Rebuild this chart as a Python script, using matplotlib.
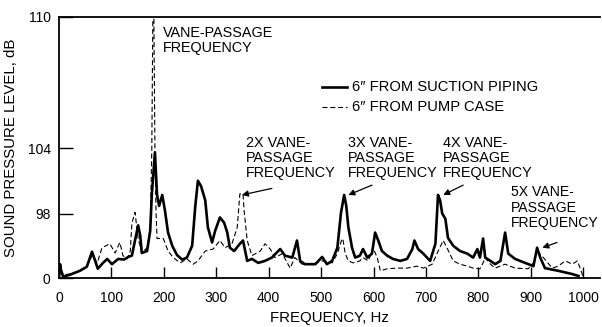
import numpy as np
import matplotlib
matplotlib.use("Agg")
import matplotlib.pyplot as plt

plt.rcParams['font.family'] = ['Liberation Sans', 'DejaVu Sans']

# Frequency (Hz) and sound pressure level (dB) — microphone 6" from suction piping
suction_freq = [0, 2, 4, 8, 21, 40, 53, 63, 69, 74, 84, 92, 101, 113, 124, 132, 139,
                145, 151, 155, 158, 168, 174, 177, 183, 187, 191, 197, 202, 208, 216,
                225, 235, 244, 254, 260, 265, 271, 279, 284, 292, 298, 307, 315, 321,
                326, 334, 345, 351, 359, 368, 380, 393, 406, 422, 431, 445, 454, 460,
                469, 489, 502, 511, 521, 531, 538, 544, 548, 552, 559, 565, 574, 580,
                588, 597, 603, 609, 616, 626, 637, 651, 664, 674, 678, 685, 695, 708,
                718, 723, 727, 731, 737, 742, 752, 765, 779, 790, 798, 803, 809, 813,
                823, 832, 842, 851, 857, 870, 889, 905, 912, 918, 927, 952, 979, 991]
suction_db = [2, 21, 11, 2, 5, 11, 17, 40, 26, 14, 23, 29, 21, 29, 28, 32, 34,
              57, 80, 64, 38, 41, 72, 99.7, 103.6, 99.7, 98.7, 99.7, 98.3, 69, 49,
              35, 28, 31, 49, 98.7, 101.0, 100.5, 99.2, 77, 54, 72, 92, 84, 69,
              46, 41, 52, 57, 26, 29, 23, 26, 31, 44, 34, 31, 57, 26,
              21, 21, 32, 21, 26, 46, 98.1, 99.7, 98.7, 77, 46, 31, 34, 44,
              31, 37, 69, 57, 41, 34, 29, 26, 29, 44, 57, 44, 37, 26,
              52, 99.7, 99.2, 98.0, 90, 61, 49, 41, 37, 31, 44, 31, 60, 31,
              26, 21, 26, 69, 37, 29, 23, 18, 46, 31, 15, 11, 6, 3]

# Microphone 6" from pump case
case_freq = [0, 2, 8, 21, 40, 53, 63, 73, 82, 97, 107, 116, 122, 130, 136, 139, 145,
             151, 158, 168, 174, 177, 179, 181, 183, 185, 187, 199, 208, 218, 231,
             244, 256, 265, 279, 294, 307, 317, 330, 340, 345, 351, 353, 359, 368,
             384, 393, 403, 412, 426, 441, 450, 464, 483, 502, 521, 531, 540, 542,
             546, 552, 561, 574, 580, 590, 599, 607, 613, 626, 645, 664, 683, 695,
             712, 721, 733, 740, 752, 765, 779, 790, 803, 809, 813, 823, 832, 851,
             870, 895, 905, 912, 924, 941, 952, 966, 979, 989, 998, 1000]
case_db = [0, 18, 5, 6, 11, 17, 34, 23, 46, 52, 38, 54, 34, 29, 41, 83, 98.1,
           60, 38, 46, 72, 103.8, 109.9, 109.9, 103.8, 98.3, 60, 60, 41, 31, 23,
           29, 21, 26, 41, 44, 57, 46, 52, 77, 99.8, 99.8, 98.3, 57, 34,
           41, 52, 44, 31, 37, 15, 31, 21, 21, 26, 23, 37, 60, 57,
           37, 26, 23, 26, 31, 26, 46, 31, 11, 14, 15, 15, 18, 15,
           21, 37, 57, 46, 26, 21, 18, 15, 14, 23, 31, 21, 15, 21,
           15, 14, 23, 41, 31, 15, 18, 26, 21, 26, 6, 0]

x_ticks = [0, 100, 200, 300, 400, 500, 600, 700, 800, 900, 1000]
y_ticks = [0, 98, 104, 110]
# vertical placement of each labelled level on the printed axis
y_tick_heights = [0, 64, 129, 259]


def fwd(v):
    return np.interp(v, y_ticks, y_tick_heights)


def inv(h):
    return np.interp(h, y_tick_heights, y_ticks)


fig = plt.figure(figsize=(6.02, 3.27), dpi=100)
ax = fig.add_axes([59 / 602, 1 - 278 / 327, 541 / 602, 261 / 327])
ax.set_yscale('function', functions=(fwd, inv))

ax.plot(suction_freq, suction_db, color='black', lw=1.9, solid_joinstyle='round')
ax.plot(case_freq, case_db, color='black', lw=0.8, linestyle=(0, (4.5, 2.5)))

ax.set_xlim(0, 1032)
ax.set_ylim(0, 110)
ax.set_xticks(x_ticks)
ax.set_yticks(y_ticks)
ax.set_yticklabels([str(t) for t in y_ticks])
ax.tick_params(axis='x', direction='in', length=8, width=1, labelsize=10, pad=9)
ax.tick_params(axis='y', direction='in', length=10, width=1, labelsize=10, pad=6)
ax.spines['right'].set_visible(False)
for s in ('left', 'bottom', 'top'):
    ax.spines[s].set_linewidth(1.3)

ax.set_xlabel('FREQUENCY, Hz', fontsize=10.8, labelpad=5)
ax.set_ylabel('SOUND PRESSURE LEVEL, dB', fontsize=10.8, labelpad=7)

txt = dict(fontsize=10.4, ha='left', va='top', linespacing=1.1)
ax.text(198, 109.6, 'VANE-PASSAGE\nFREQUENCY', **txt)
ax.text(357, 104.55, '2X VANE-\nPASSAGE\nFREQUENCY', **txt)
ax.text(551, 104.55, '3X VANE-\nPASSAGE\nFREQUENCY', **txt)
ax.text(733, 104.55, '4X VANE-\nPASSAGE\nFREQUENCY', **txt)
ax.text(862, 100.6, '5X VANE-\nPASSAGE\nFREQUENCY', fontsize=10.1, ha='left',
        va='top', linespacing=1.13)

arrow = dict(arrowstyle='-|>', color='black', lw=0.9, mutation_scale=9,
             shrinkA=0, shrinkB=0)
ax.annotate('', xy=(349, 99.7), xytext=(406, 100.3), arrowprops=arrow)
ax.annotate('', xy=(552, 99.7), xytext=(597, 100.6), arrowprops=arrow)
ax.annotate('', xy=(733, 99.7), xytext=(771, 100.6), arrowprops=arrow)
ax.annotate('', xy=(922, 46), xytext=(950, 54), arrowprops=arrow)

# legend drawn as plain line samples with captions
ax.plot([502, 550], [106.8, 106.8], color='black', lw=1.9)
ax.plot([502, 550], [105.9, 105.9], color='black', lw=0.8, linestyle=(0, (4.5, 2.5)))
ax.text(559, 106.8, '6\u2033 FROM SUCTION PIPING', fontsize=10.6, va='center', ha='left')
ax.text(559, 105.9, '6\u2033 FROM PUMP CASE', fontsize=10.6, va='center', ha='left')

fig.savefig('out.png', dpi=100)
